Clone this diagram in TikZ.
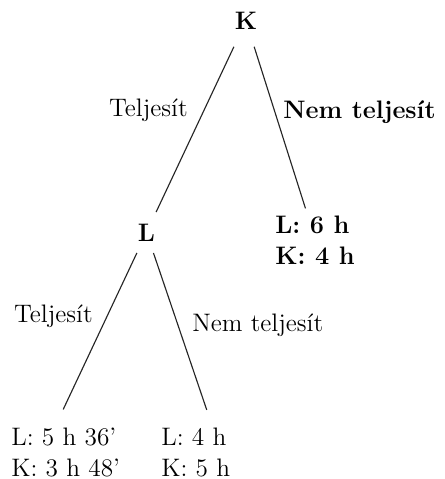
\documentclass[tikz,border=0pt]{standalone}
\usepackage{tikz}
\tikzset{
    tree player/.style={
        font=\Large\bfseries,
        inner sep=6.5pt
    },
    tree payoff/.style={
        font=\Large,
        align=left,
        inner sep=0pt,
        anchor=north west
    },
    tree label/.style={font=\Large, inner sep=0pt},
    tree edge/.style={line width=0.65pt, draw=black!85}
}

\begin{document}
\begin{tikzpicture}[x=0.02cm, y=-0.02cm]
    \useasboundingbox (0,0) rectangle (445,479);

    % players
    \node[tree player, inner sep=9.5pt] (K) at (246,21) {K};
    \node[tree player] (L) at (146.5,232.5) {L};

    % payoffs
    \node[tree payoff, font=\Large\bfseries] (payK) at (275,215.4) {L: 6 h\\K: 4 h};
    \node[tree payoff] (payLyes) at (11,427.4) {L: 5 h 36'\\K: 3 h 48'};
    \node[tree payoff] (payLno) at (161,427.4) {L: 4 h\\K: 5 h};

    % branch labels
    \node[tree label, anchor=base east] (Kyes) at (188,117) {Teljesít};
    \node[tree label, anchor=base west, font=\Large\bfseries] (Kno) at (283,119) {Nem teljesít};
    \node[tree label, anchor=base east] (Lyes) at (93,322) {Teljesít};
    \node[tree label, anchor=base west] (Lno) at (192,331) {Nem teljesít};

    \draw[tree edge] (K) -- (L);
    \draw[tree edge] (K) -- ([xshift=-0.19cm, yshift=0.14cm]payK.north);
    \draw[tree edge] (L) -- ([xshift=-0.05cm, yshift=0.36cm]payLyes.north);
    \draw[tree edge] (L) -- ([xshift=0.22cm, yshift=0.35cm]payLno.north);
\end{tikzpicture}
\end{document}
